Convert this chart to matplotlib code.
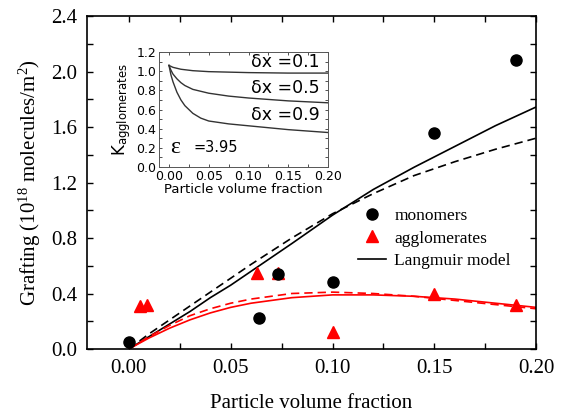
import numpy as np
import matplotlib
matplotlib.use("Agg")
from matplotlib import pyplot as plt
from matplotlib.ticker import MultipleLocator, FormatStrFormatter
from matplotlib.lines import Line2D

# serif math for the superscripts in the axis label
plt.rcParams["mathtext.fontset"] = "custom"
plt.rcParams["mathtext.rm"] = "Liberation Serif"
plt.rcParams["mathtext.it"] = "Liberation Serif:italic"

# measured grafting density (10^18 molecules/m^2)
mono_x = [0.0, 0.064, 0.073, 0.10, 0.15, 0.19]
mono_y = [0.05, 0.22, 0.54, 0.48, 1.56, 2.08]
aggl_x = [0.0055, 0.0088, 0.063, 0.073, 0.10, 0.15, 0.19]
aggl_y = [0.31, 0.32, 0.55, 0.55, 0.12, 0.40, 0.32]

# Langmuir model curves
model_x = [0.0, 0.01, 0.02, 0.03, 0.04, 0.05, 0.06, 0.08, 0.10, 0.12, 0.14, 0.16, 0.18, 0.20]
mono_fit = [0.0, 0.09, 0.18, 0.27, 0.37, 0.46, 0.56, 0.76, 0.965, 1.15, 1.31, 1.46, 1.61, 1.745]
mono_fit2 = [0.0, 0.11, 0.21, 0.31, 0.41, 0.51, 0.61, 0.80, 0.975, 1.12, 1.25, 1.35, 1.44, 1.52]
aggl_fit = [0.0, 0.08, 0.15, 0.21, 0.26, 0.30, 0.33, 0.37, 0.39, 0.39, 0.38, 0.36, 0.33, 0.30]
aggl_fit2 = [0.0, 0.09, 0.17, 0.24, 0.29, 0.33, 0.36, 0.40, 0.41, 0.40, 0.38, 0.35, 0.32, 0.29]

# inset: K for agglomerates
k_x = [0.0, 0.0025, 0.005, 0.01, 0.015, 0.02, 0.03, 0.04, 0.05, 0.075, 0.10, 0.15, 0.20]
k_01 = [1.06, 1.05, 1.04, 1.03, 1.02, 1.015, 1.005, 1.0, 0.995, 0.99, 0.985, 0.98, 0.98]
k_05 = [1.06, 1.01, 0.97, 0.92, 0.88, 0.85, 0.81, 0.79, 0.77, 0.74, 0.72, 0.69, 0.67]
k_09 = [1.06, 0.96, 0.89, 0.78, 0.70, 0.64, 0.56, 0.51, 0.48, 0.45, 0.43, 0.39, 0.36]
k_labels = ["0.1", "0.5", "0.9"]
k_label_y = [1.10, 0.82, 0.54]

serif = "Liberation Serif"
red = "#ff0000"

fig = plt.figure(figsize=(5.68, 4.13), dpi=100)
ax = fig.add_axes([0.153, 0.155, 0.791, 0.806])

ax.plot(model_x, mono_fit, color="black", lw=1.2)
ax.plot(model_x, mono_fit2, color="black", lw=1.2, ls=(0, (5, 3)))
ax.plot(model_x, aggl_fit, color=red, lw=1.2)
ax.plot(model_x, aggl_fit2, color=red, lw=1.2, ls=(0, (5, 3)))
ax.plot(aggl_x, aggl_y, "^", color=red, ms=9, mec=red, ls="none")
ax.plot(mono_x, mono_y, "o", color="black", ms=8, ls="none")

ax.set_xlim(-0.0206, 0.20)
ax.set_ylim(0.0, 2.4)
ax.xaxis.set_major_locator(MultipleLocator(0.05))
ax.xaxis.set_minor_locator(MultipleLocator(0.025))
ax.yaxis.set_major_locator(MultipleLocator(0.4))
ax.yaxis.set_minor_locator(MultipleLocator(0.2))
ax.xaxis.set_major_formatter(FormatStrFormatter("%.2f"))
ax.yaxis.set_major_formatter(FormatStrFormatter("%.1f"))
ax.tick_params(which="both", direction="in", top=True, right=True,
               length=4, width=1, labelsize=15, pad=7)
for lab in ax.get_xticklabels() + ax.get_yticklabels():
    lab.set_family(serif)
for s in ax.spines.values():
    s.set_linewidth(1.2)

ax.set_xlabel("Particle volume fraction", family=serif, fontsize=15, labelpad=12)
ax.set_ylabel("Grafting (10$^{18}$ molecules/m$^2$)", family=serif, fontsize=15, labelpad=6)

handles = [
    Line2D([], [], marker="o", color="black", ls="none", ms=8),
    Line2D([], [], marker="^", color=red, ls="none", ms=9),
    Line2D([], [], color="black", lw=1.2),
]
ax.legend(handles, ["monomers", "agglomerates", "Langmuir model"],
          loc="upper left", bbox_to_anchor=(0.568, 0.47), frameon=False,
          prop={"family": serif, "size": 12.5}, handlelength=1.6,
          handletextpad=0.5, labelspacing=0.35)

# inset
ins = fig.add_axes([0.280, 0.5956, 0.2975, 0.2785])
ins.plot(k_x, k_01, color="#333333", lw=1.0)
ins.plot(k_x, k_05, color="#333333", lw=1.0)
ins.plot(k_x, k_09, color="#333333", lw=1.0)
for lab, yy in zip(k_labels, k_label_y):
    ins.text(0.19, yy, "\u03b4x =" + lab, ha="right", va="center",
             fontsize=12.5, family="DejaVu Sans")
ins.text(0.002, 0.2, "\u03b5", fontsize=17, va="center", ha="left", family=serif)
ins.text(0.031, 0.2, "=3.95", fontsize=10.5, va="center", ha="left", family="DejaVu Sans")
ins.set_xlim(-0.0125, 0.20)
ins.set_ylim(0.0, 1.2)
ins.xaxis.set_major_locator(MultipleLocator(0.05))
ins.xaxis.set_minor_locator(MultipleLocator(0.025))
ins.yaxis.set_major_locator(MultipleLocator(0.2))
ins.yaxis.set_minor_locator(MultipleLocator(0.1))
ins.xaxis.set_major_formatter(FormatStrFormatter("%.2f"))
ins.yaxis.set_major_formatter(FormatStrFormatter("%.1f"))
ins.tick_params(which="both", direction="in", top=True, right=True,
                length=2, width=0.6, labelsize=9, pad=2, colors="#333333",
                labelcolor="black")
for s in ins.spines.values():
    s.set_linewidth(0.7)
    s.set_color("#555555")
ins.set_xlabel("Particle volume fraction", fontsize=9.5, labelpad=0)
ins.set_ylabel("K$_{\\mathregular{agglomerates}}$", fontsize=12, labelpad=2,
               family="DejaVu Sans")

fig.savefig("out.png", dpi=100)
